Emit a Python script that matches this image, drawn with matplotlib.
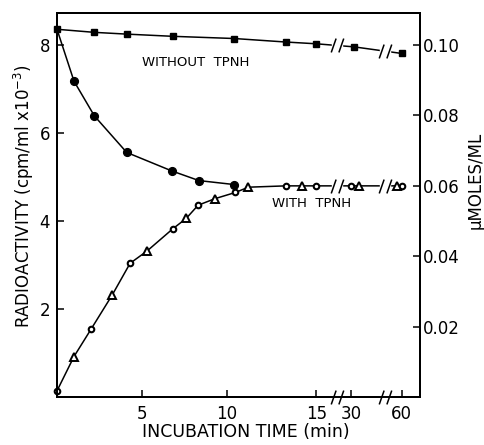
import numpy as np
import matplotlib
matplotlib.use("Agg")
import matplotlib.pyplot as plt
from matplotlib.path import Path

# ---- data (minutes, cpm/ml x10^-3) ----
sq_t = [0, 2.2, 4.1, 6.8, 10.4, 13.3, 15, 32, 60]
sq_v = [8.36, 8.29, 8.25, 8.20, 8.15, 8.07, 8.03, 7.96, 7.81]

fc_t = [0, 1.0, 2.2, 4.1, 6.75, 8.35, 10.4]
fc_v = [8.36, 7.18, 6.39, 5.56, 5.14, 4.92, 4.83]

oc_t = [0, 2.0, 4.3, 6.8, 8.3, 10.47, 13.3, 15, 30, 60]
oc_v = [0.14, 1.54, 3.04, 3.82, 4.36, 4.65, 4.80, 4.80, 4.80, 4.80]

tr_t = [1.0, 3.25, 5.3, 7.6, 9.3, 11.2, 14.2, 35, 57]
tr_v = [0.92, 2.32, 3.32, 4.06, 4.51, 4.77, 4.80, 4.80, 4.80]

xtick_vals = [5, 10, 15, 30, 60]
xtick_labels = ["5", "10", "15", "30", "60"]
ytick_vals = [2, 4, 6, 8]
rtick_vals = [0.02, 0.04, 0.06, 0.08, 0.10]
break_t = [24, 50]

# broken time axis: piecewise linear scale
knots_t = np.array([0, 10, 15, 30, 60, 120])
knots_u = np.array([0, 10, 15.25, 17.28, 20.28, 23.28])

def fwd(t):
    return np.interp(t, knots_t, knots_u)

def inv(u):
    return np.interp(u, knots_u, knots_t)

plt.rcParams['font.family'] = ['DejaVu Sans']
fig = plt.figure(figsize=(4.84, 4.45), dpi=100)
ax = fig.add_axes([57/484, 1-397/445, (420-57)/484, (397-13)/445])
ax.set_xscale('function', functions=(fwd, inv))
ax.set_xlim(0, inv((420-57)/17.0))
ax.set_ylim(0, 8.73)

lw = 1.1
# without TPNH
ax.plot(sq_t, sq_v, color='black', lw=lw, marker='s', ms=4.8, mfc='black',
        mec='black', clip_on=False, zorder=3)
# with TPNH, decreasing
ax.plot(fc_t, fc_v, color='black', lw=lw, marker='o', ms=5.6, mfc='black',
        mec='black', markevery=list(range(1, len(fc_t))), clip_on=False, zorder=3)
# rising curve + plateau (open circles and triangles)
comb = sorted(zip(oc_t + tr_t, oc_v + tr_v))
ax.plot([c[0] for c in comb], [c[1] for c in comb], color='black', lw=lw,
        clip_on=False, zorder=2)
ax.plot(oc_t, oc_v, ls='none', marker='o', ms=4, mfc='white', mec='black',
        mew=1.5, clip_on=False, zorder=4)
ax.plot(tr_t, tr_v, ls='none', marker='^', ms=6, mfc='white', mec='black',
        mew=1.4, clip_on=False, zorder=4)

# break marks "//"
brk = Path([(-1.8, -2), (-0.4, 2), (0.4, -2), (1.8, 2)],
           [Path.MOVETO, Path.LINETO, Path.MOVETO, Path.LINETO])
gap = Path([(-1, -0.6), (1, -0.6), (1, 0.6), (-1, 0.6), (-1, -0.6)],
           [Path.MOVETO, Path.LINETO, Path.LINETO, Path.LINETO, Path.CLOSEPOLY])
for yv in [np.interp(break_t, sq_t, sq_v), np.interp(break_t, oc_t, oc_v), [0, 0]]:
    ax.plot(break_t, yv, ls='none', marker=gap, ms=7, mfc='white', mec='white',
            clip_on=False, zorder=5)
    ax.plot(break_t, yv, ls='none', marker=brk, ms=10, mec='black', mew=1.1,
            clip_on=False, zorder=6)

ax.set_xticks(xtick_vals)
ax.set_xticklabels(xtick_labels)
ax.set_yticks(ytick_vals)
ax.set_yticklabels([str(v) for v in ytick_vals])
ax.xaxis.set_minor_locator(matplotlib.ticker.NullLocator())
ax.tick_params(direction='in', length=5, width=1.1, labelsize=12)
ax.tick_params(axis='y', pad=5)
ax.tick_params(axis='x', pad=6)
for s in ax.spines.values():
    s.set_linewidth(1.4)

ax2 = ax.twinx()
ax2.set_ylim(0, 8.73 * 0.0125)
ax2.set_yticks(rtick_vals)
ax2.set_yticklabels(["%.2f" % v for v in rtick_vals])
ax2.tick_params(direction='in', length=5, width=1.1, labelsize=12, pad=2)
for s in ax2.spines.values():
    s.set_linewidth(1.4)

ax.text(0.383, 0.872, "WITHOUT  TPNH", transform=ax.transAxes, ha='center',
        va='center', fontsize=9.5)
ax.text(0.702, 0.505, "WITH  TPNH", transform=ax.transAxes, ha='center',
        va='center', fontsize=9.5)

fig.text(24/484, 1-196/445, "RADIOACTIVITY (cpm/ml x10$^{-3}$)", rotation=90,
         ha='center', va='center', fontsize=12)
fig.text(476/484, 1-180/445, "\u03bcMOLES/ML", rotation=90, ha='center',
         va='center', fontsize=12)
fig.text(246/484, 1-432/445, "INCUBATION TIME (min)", ha='center',
         va='center', fontsize=12.5)

fig.savefig("out.png", dpi=100)
